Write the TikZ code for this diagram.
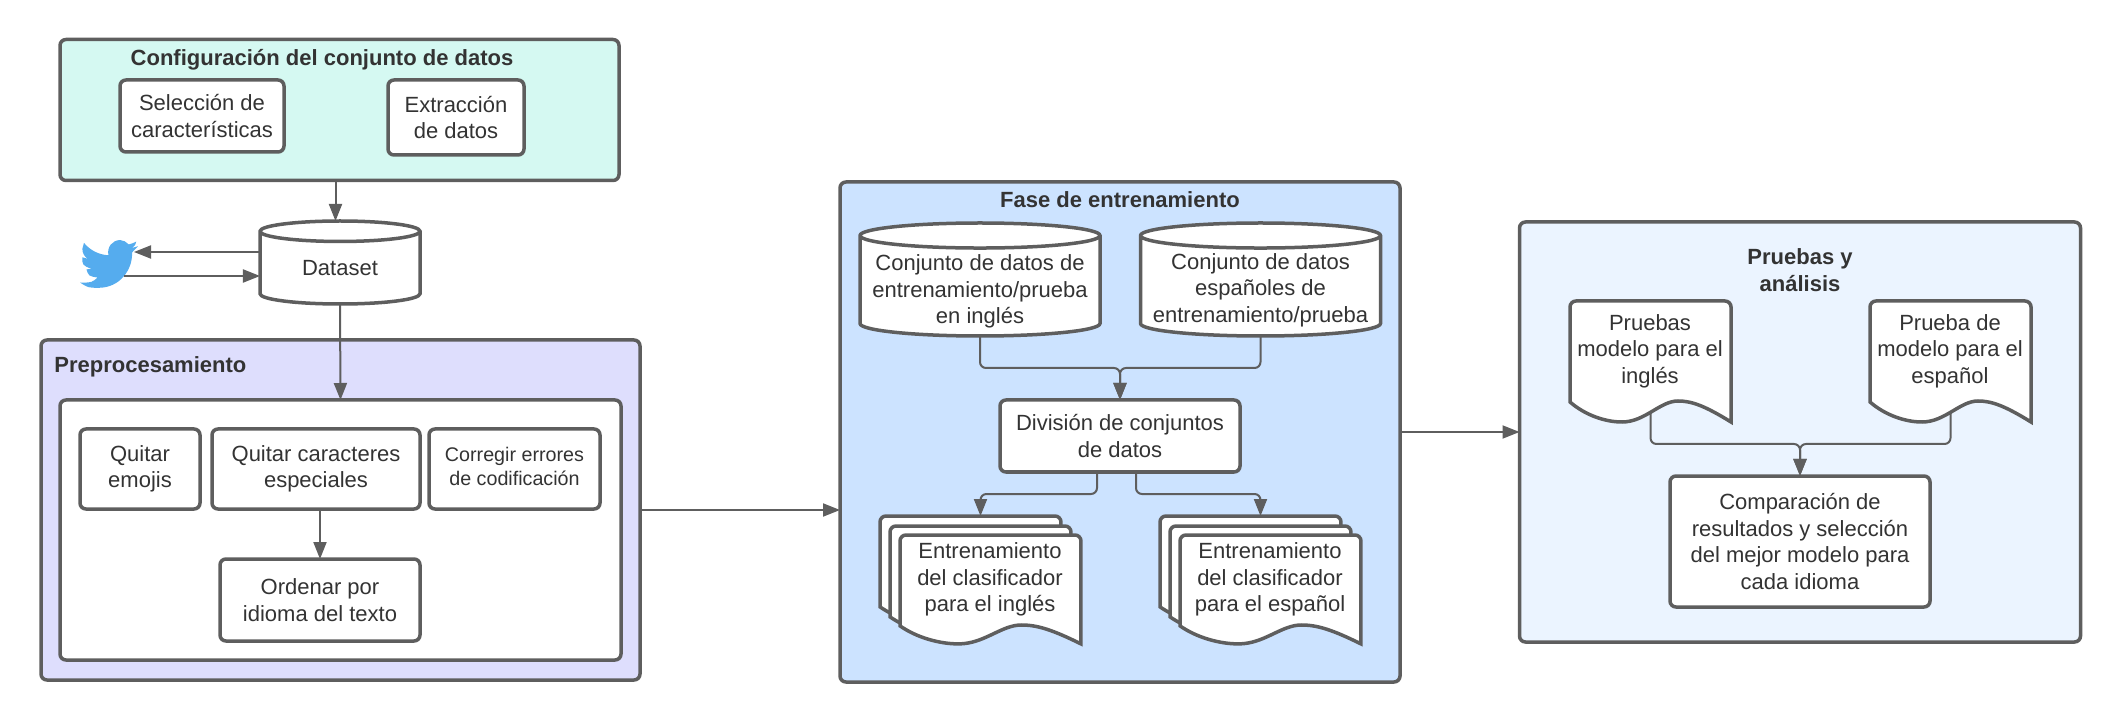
\documentclass[tikz,border=0pt]{standalone}
\usepackage{fontspec}
\setmainfont{Liberation Sans}
\usetikzlibrary{arrows.meta,positioning,shapes.geometric}
\definecolor{linegray}{HTML}{5E5E5E}
\definecolor{inkgray}{HTML}{333333}
\definecolor{mintfill}{HTML}{D5F9F2}
\definecolor{lilacfill}{HTML}{DEDEFD}
\definecolor{bluefill}{HTML}{CCE3FF}
\definecolor{palefill}{HTML}{EBF4FF}
\definecolor{birdblue}{HTML}{55ACEE}

\begin{document}
\begin{tikzpicture}[x=.5pt,y=-.5pt]
\useasboundingbox (0,0) rectangle (2120,721);
\tikzstyle{box}=[draw=linegray,fill=white,text=inkgray,line width=1.75pt,rounded corners=3pt,align=center,inner sep=0pt,outer sep=0pt,font=\fontsize{11}{13.3}\selectfont]
\tikzstyle{panel}=[box,anchor=center]
\tikzstyle{heading}=[text=inkgray,align=center,inner sep=0pt,font=\bfseries\fontsize{11}{13.3}\selectfont]
\tikzstyle{plain}=[text=inkgray,align=center,inner sep=0pt,font=\fontsize{11}{13.3}\selectfont]
\tikzstyle{store}=[box,shape=cylinder,shape border rotate=90,rounded corners=0pt,anchor=shape center]
\tikzstyle{flow}=[draw=linegray,line width=1pt,rounded corners=3pt,-{Triangle[length=8.5pt,width=6.5pt]}]
\tikzset{wavesheet/.pic={
  \draw[draw=linegray,fill=white,line width=1.75pt,rounded corners=3pt] (0,101) -- (0,0) -- (161,0) [sharp corners] -- (161,121)
    .. controls (135,105) and (122,100) .. (108,100) .. controls (90,100) and (75,121) .. (52,121)
    .. controls (35,121) and (15,114) .. (0,101) -- cycle;
  \coordinate (-top) at (80.5,0);
  \coordinate (-out) at (80.5,112);
}}

% panels
\node[panel,fill=mintfill,minimum width=279.5pt,minimum height=70.5pt] (setup) at (339.5,110) {};
\node[panel,fill=lilacfill,minimum width=299.5pt,minimum height=170pt] (prep) at (340.5,510) {};
\node[panel,minimum width=280.5pt,minimum height=130pt] (prepin) at (340.5,530) {};
\node[panel,fill=bluefill,minimum width=280pt,minimum height=250pt] (train) at (1120,432) {};
\node[panel,fill=palefill,minimum width=280.5pt,minimum height=210pt] (tests) at (1800,432) {};

\node[heading] (setuptitle) at (322,59.5) {Configuración del conjunto de datos};
\node[heading,anchor=west] (preptitle) at (54,366.5) {Preprocesamiento};
\node[heading] (traintitle) at (1120,199.5) {Fase de entrenamiento};
\node[heading] (teststitle) at (1800,270) {Pruebas y\\análisis};

% first panel
\node[box,minimum width=82pt,minimum height=36pt] (feat) at (202,116) {Selección de\\características};
\node[box,minimum width=68pt,minimum height=37.5pt,right=52pt of feat,yshift=-.75pt] (extract) {Extracción\\de datos};

% dataset and bird
\node[store,minimum width=80pt,minimum height=41.5pt,aspect=.27] (dataset) at (340,262.5) {Dataset};
\begin{scope}[shift={(80,235.2)},xscale=2.417,yscale=2.42]
\fill[birdblue] (23.953,4.57) .. controls (22.6,5.15) .. (21.128,5.345) .. controls (22.75,4.4) .. (23.291,2.622)
  .. controls (22.34,3.177) and (21.286,3.581) .. (20.164,3.806) .. controls (19.2,2.8) and (17.9,2) .. (16.6,2)
  .. controls (13.4,2) and (11,5) .. (11.78,8.288) .. controls (7.69,8.095) and (4.067,6.13) .. (1.64,3.162)
  .. controls (.974,4.3) .. (.974,5.637) .. controls (.974,7.347) and (1.844,8.85) .. (3.162,9.733)
  .. controls (2,9.7) .. (.934,9.117) -- (.934,9.177) .. controls (1,12.4) .. (4.88,14.004)
  .. controls (3.8,14.3) .. (2.668,14.089) .. controls (3.6,16.9) .. (7.272,17.506)
  .. controls (4.9,19.5) .. (1.17,19.611) .. controls (.78,19.611) and (.391,19.588) .. (0,19.544)
  .. controls (3.3,21.7) .. (7.557,21.753) .. controls (16.61,21.753) and (21.555,14.257) .. (21.555,7.768)
  .. controls (21.555,7.558) and (21.555,7.348) .. (21.54,7.138) .. controls (23,6.2) .. (24,4.59) -- cycle;
\end{scope}
\coordinate (birdout) at (134,252);
\coordinate (birdin) at (124,276);

% cleaning steps
\node[box,minimum width=60pt,minimum height=40pt] (emoji) at (140,469) {Quitar\\emojis};
\node[box,minimum width=104pt,minimum height=40pt,right=6pt of emoji] (chars) {Quitar caracteres\\especiales};
\node[box,minimum width=85.5pt,minimum height=40pt,right=4.5pt of chars,font=\fontsize{9.85}{11.7}\selectfont] (encoding) {Corregir errores\\de codificación\rule[-2.5pt]{0pt}{0pt}};
\node[box,minimum width=100pt,minimum height=41pt,below=25pt of chars,xshift=2pt] (lang) {Ordenar por\\idioma del texto};

% training
\node[store,minimum width=120pt,minimum height=56.5pt,aspect=.33] (setEn) at (980,279.5) {\phantom{Dataset}};
\node[store,minimum width=120pt,minimum height=56.5pt,aspect=.33] (setEs) at (1260.5,279.5) {\phantom{Dataset}};
\node[plain] (setEnText) at (980,291.5) {Conjunto de datos de\\entrenamiento/prueba\\en inglés};
\node[plain] (setEsText) at (1260.5,290) {Conjunto de datos\\españoles de\\entrenamiento/prueba};
\node[box,minimum width=120pt,minimum height=36pt] (split) at (1120,436) {División de conjuntos\\de datos};

\pic[xscale=1.124,yscale=.9] (stackEnA) at (880,516) {wavesheet};
\pic[xscale=1.124,yscale=.9] (stackEnB) at (890,526) {wavesheet};
\pic[xscale=1.124,yscale=.9] (stackEnC) at (900,535) {wavesheet};
\pic[xscale=1.124,yscale=.9] (stackEsA) at (1160,516) {wavesheet};
\pic[xscale=1.124,yscale=.9] (stackEsB) at (1170,526) {wavesheet};
\pic[xscale=1.124,yscale=.9] (stackEsC) at (1180,535) {wavesheet};
\node[plain] (clfEn) at (990,579.5) {Entrenamiento\\del clasificador\\para el inglés};
\node[plain] (clfEs) at (1270,579.5) {Entrenamiento\\del clasificador\\para el español};

% tests
\pic (testEn) at (1570,301) {wavesheet};
\pic (testEs) at (1870,301) {wavesheet};
\node[plain] (testEnText) at (1650,351) {Pruebas\\modelo para el\\inglés};
\node[plain] (testEsText) at (1950,351) {Prueba de\\modelo para el\\español};
\node[box,minimum width=130pt,minimum height=65.5pt] (compare) at (1800,541.5) {Comparación de\\resultados y selección\\del mejor modelo para\\cada idioma};

% connectors
\draw[flow] ([xshift=-2.25pt]setup.south -| dataset.north) -- ([xshift=-2.25pt]dataset.north);
\draw[flow] (dataset.west |- birdout) -- (birdout);
\draw[flow] (birdin) -- (dataset.west |- birdin);
\draw[flow] (dataset.south) -- (prepin.north);
\draw[flow] ([xshift=2pt]chars.south) -- (lang.north);
\draw[flow] (prep.east |- 0,510) -- (train.west |- 0,510);
\draw[flow] (setEn.south) -- ++(0,32) -| (split.north);
\draw[flow] (setEs.south) -- ++(0,32) -| (split.north);
\draw[flow] ([xshift=-11.5pt]split.south) -- ++(0,22) -| (stackEnB-top |- stackEnA-top);
\draw[flow] ([xshift=8pt]split.south) -- ++(0,22) -| (stackEsB-top |- stackEsA-top);
\draw[flow] (train.east) -- (tests.west);
\draw[flow] (testEn-out) -- ++(0,31) -| (compare.north);
\draw[flow] (testEs-out) -- ++(0,31) -| (compare.north);
\end{tikzpicture}
\end{document}
